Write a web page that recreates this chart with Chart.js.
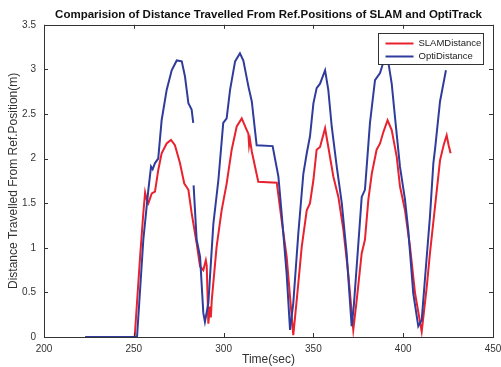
<!DOCTYPE html>
<html>
<head>
<meta charset="utf-8">
<script src="https://cdn.jsdelivr.net/npm/chart.js@4.4.0/dist/chart.umd.min.js"></script>
<style>
  html, body { margin: 0; padding: 0; background: #fff; }
  #wrap { width: 501px; height: 367px; }
</style>
</head>
<body>
<div id="wrap"><canvas id="distChart"></canvas></div>
<script>
// thời gian (giây) và khoảng cách (m)
const slamTime = [223, 250.5, 253.5, 255.3, 256.3, 257.2, 258.1, 260, 261.8, 263.6, 265.5, 268.3, 270.7, 272.9,
  275.7, 278.1, 280.4, 282.2, 285, 286.9, 288.7, 290.1, 290.6, 291.5, 292.4, 292.9, 293.4, 296.1, 298.9,
  301.7, 304.5, 307.3, 310.1, 312.9, 313.8, 314.2, 314.7, 315.7, 319.3, 329.6, 331.4, 332.3, 335.1, 337,
  338.8, 340.7, 343.5, 346.3, 348.1, 350, 351.8, 353.7, 356.5, 358.3, 361.1, 363.9, 366.7, 369.4, 372.2,
  374.1, 376.9, 378.7, 380.6, 382.5, 385.2, 387.1, 389, 391.3, 393.6, 396.4, 398.2, 401, 403.8, 406.6,
  410.3, 413.1, 414.9, 417.7, 420.5, 422.5, 424.2, 425.3, 426.4];
const slamDist = [0, 0, 0.90, 1.39, 1.62, 1.54, 1.50, 1.61, 1.63, 1.87, 2.06, 2.17, 2.21, 2.15,
  1.95, 1.72, 1.65, 1.39, 1.05, 0.79, 0.75, 0.86, 0.80, 0.15, 0.34, 0.22, 0.41, 1.01, 1.42,
  1.72, 2.10, 2.36, 2.45, 2.32, 2.28, 2.15, 2.21, 2.08, 1.74, 1.73, 1.45, 1.31, 0.90, 0.45,
  0.02, 0.41, 1.01, 1.42, 1.50, 1.76, 2.10, 2.13, 2.34, 2.13, 1.80, 1.57, 1.20, 0.71, 0.08,
  0.41, 0.94, 1.09, 1.54, 1.83, 2.10, 2.17, 2.30, 2.43, 2.32, 2.02, 1.69, 1.42, 1.01, 0.49,
  0.06, 0.56, 0.94, 1.46, 1.98, 2.15, 2.26, 2.15, 2.06];

const optiTime = [223, 251.8, 255.3, 258.1, 259.6, 260.5, 261.8, 263.6, 265.5, 268.3, 271.1, 273.9, 276.7,
  278.5, 280.4, 282.2, 283.1, 283.2, 283.3, 285, 286.9, 288.7, 289.6, 291.5, 294.3, 297.1, 299.8, 301.7,
  303.6, 306.4, 309.1, 311, 313.8, 315.7, 318.4, 327.3, 330.5, 332.3, 335.1, 337, 338.8, 341.6, 344.4,
  346.3, 348.1, 350, 351.8, 353.7, 356.5, 358.3, 360.2, 363, 365.8, 368.5, 371.3, 372.5, 374.5, 376.9,
  378.7, 381.5, 384.3, 387.1, 390.8, 393.6, 395.4, 398.2, 401, 402.8, 405.6, 408.4, 410.3, 413.1, 414.9,
  416.8, 417.7, 420.5, 423.8];
const optiDist = [0, 0, 1.09, 1.65, 1.91, 1.88, 1.95, 2.00, 2.43, 2.77, 2.99, 3.10, 3.09,
  2.92, 2.62, 2.55, 2.40, null, 1.70, 1.09, 0.90, 0.27, 0.17, 0.38, 1.27, 1.76, 2.40, 2.45,
  2.77, 3.09, 3.18, 3.10, 2.81, 2.64, 2.15, 2.14, 1.80, 1.39, 0.71, 0.08, 0.38, 1.16, 1.83,
  2.06, 2.25, 2.62, 2.79, 2.84, 2.99, 2.77, 2.36, 1.91, 1.50, 0.94, 0.12, 0.35, 0.90, 1.57,
  1.65, 2.40, 2.88, 2.96, 3.20, 2.84, 2.47, 1.91, 1.54, 1.20, 0.49, 0.12, 0.19, 0.90, 1.35,
  1.95, 2.10, 2.64, 2.99];

const seriesNames = ["SLAMDistance", "OptiDistance"];
const seriesColors = ["#e8222e", "#2f3c9c"];

const FONT = "'Liberation Sans', Arial, Helvetica, sans-serif";

function toPoints(xs, ys) {
  return xs.map((x, i) => ({ x: x, y: ys[i] }));
}

// vạch chia hướng vào trong, khung và chú thích kiểu MATLAB
const matlabFrame = {
  id: "matlabFrame",
  afterDatasetsDraw(chart) {
    const { ctx, chartArea: a, scales } = chart;
    const tl = 4;
    ctx.save();
    ctx.strokeStyle = "#333";
    ctx.lineWidth = 1;
    ctx.beginPath();
    scales.x.ticks.forEach(t => {
      const px = Math.round(scales.x.getPixelForValue(t.value)) + 0.5;
      ctx.moveTo(px, a.bottom); ctx.lineTo(px, a.bottom - tl);
      ctx.moveTo(px, a.top); ctx.lineTo(px, a.top + tl);
    });
    scales.y.ticks.forEach(t => {
      const py = Math.round(scales.y.getPixelForValue(t.value)) + 0.5;
      ctx.moveTo(a.left, py); ctx.lineTo(a.left + tl, py);
      ctx.moveTo(a.right, py); ctx.lineTo(a.right - tl, py);
    });
    ctx.stroke();
    ctx.strokeRect(Math.round(a.left) + 0.5, Math.round(a.top) + 0.5,
      Math.round(a.right - a.left), Math.round(a.bottom - a.top));

    // chú thích
    const bw = 105, bh = 31;
    const bx = Math.round(a.right) - 10 - bw + 0.5;
    const by = Math.round(a.top) + 8 + 0.5;
    ctx.fillStyle = "#fff";
    ctx.fillRect(bx, by, bw, bh);
    ctx.strokeStyle = "#333";
    ctx.strokeRect(bx, by, bw, bh);
    ctx.font = "9.5px " + FONT;
    ctx.textBaseline = "middle";
    seriesNames.forEach((name, i) => {
      const ly = by + 10 + i * 13;
      ctx.strokeStyle = seriesColors[i];
      ctx.lineWidth = 2;
      ctx.beginPath();
      ctx.moveTo(bx + 7, ly); ctx.lineTo(bx + 35, ly);
      ctx.stroke();
      ctx.fillStyle = "#222";
      ctx.fillText(name, bx + 40, ly);
    });
    ctx.restore();
  }
};

const ctx = document.getElementById("distChart").getContext("2d");
const distChart = new Chart(ctx, {
  type: "line",
  data: {
    datasets: [
      {
        label: seriesNames[0],
        data: toPoints(slamTime, slamDist),
        borderColor: seriesColors[0],
        order: 2
      },
      {
        label: seriesNames[1],
        data: toPoints(optiTime, optiDist),
        borderColor: seriesColors[1],
        order: 1
      }
    ]
  },
  options: {
    responsive: true,
    maintainAspectRatio: false,
    animation: false,
    spanGaps: false,
    elements: {
      line: { borderWidth: 2, tension: 0, fill: false },
      point: { radius: 0, hoverRadius: 0 }
    },
    layout: { padding: { left: 0, right: 8, top: 0, bottom: 0 } },
    plugins: {
      legend: { display: false },
      tooltip: { enabled: false },
      title: {
        display: true,
        fullSize: false,
        text: "Comparision of Distance Travelled From Ref.Positions of SLAM and OptiTrack",
        color: "#111",
        font: { family: FONT, size: 11.5, weight: "bold" },
        padding: { top: 8, bottom: 3 }
      }
    },
    scales: {
      x: {
        type: "linear",
        min: 200,
        max: 450,
        ticks: { stepSize: 50, padding: 6, maxRotation: 0, color: "#333", font: { family: FONT, size: 10 } },
        grid: { display: false, drawTicks: false },
        border: { display: false },
        title: { display: true, text: "Time(sec)", color: "#333", font: { family: FONT, size: 12 }, padding: { top: 0, bottom: 0 } },
        afterFit: s => { s.height = 30; s.paddingLeft = 0; s.paddingRight = 0; }
      },
      y: {
        min: 0,
        max: 3.5,
        ticks: {
          stepSize: 0.5, padding: 8, color: "#333", font: { family: FONT, size: 10 },
          callback: v => String(v)
        },
        grid: { display: false, drawTicks: false },
        border: { display: false },
        title: { display: true, text: "Distance Travelled From Ref.Position(m)", color: "#333", font: { family: FONT, size: 12 }, padding: { top: 6, bottom: 0 } },
        afterFit: s => { s.width = 44; s.paddingTop = 0; s.paddingBottom = 0; }
      }
    }
  },
  plugins: [matlabFrame]
});
</script>
</body>
</html>
